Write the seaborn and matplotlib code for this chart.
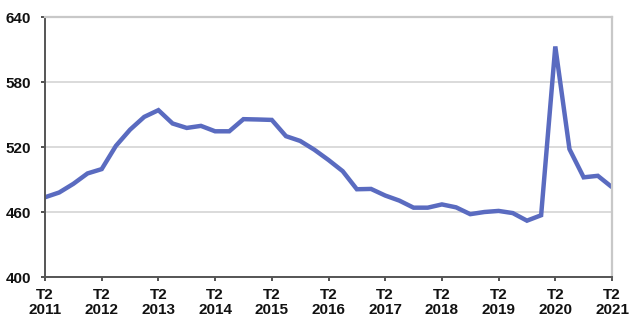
import matplotlib
matplotlib.use("Agg")
import matplotlib.pyplot as plt
import seaborn as sns
import pandas as pd

# Quarterly series, T2 2011 through T2 2021
quarters = [
    "T2 2011", "T3 2011", "T4 2011", "T1 2012",
    "T2 2012", "T3 2012", "T4 2012", "T1 2013",
    "T2 2013", "T3 2013", "T4 2013", "T1 2014",
    "T2 2014", "T3 2014", "T4 2014", "T1 2015",
    "T2 2015", "T3 2015", "T4 2015", "T1 2016",
    "T2 2016", "T3 2016", "T4 2016", "T1 2017",
    "T2 2017", "T3 2017", "T4 2017", "T1 2018",
    "T2 2018", "T3 2018", "T4 2018", "T1 2019",
    "T2 2019", "T3 2019", "T4 2019", "T1 2020",
    "T2 2020", "T3 2020", "T4 2020", "T1 2021",
    "T2 2021",
]
values = [
    473.6, 478.0, 486.0, 495.6,
    499.6, 521.0, 536.0, 547.8,
    554.0, 541.7, 537.6, 539.5,
    534.5, 534.5, 545.7, 545.4,
    545.0, 530.0, 525.6, 517.5,
    508.0, 497.7, 481.0, 481.3,
    475.2, 470.5, 464.0, 464.0,
    467.0, 464.3, 458.0, 460.0,
    461.0, 459.0, 452.0, 457.0,
    612.8, 518.0, 492.0, 493.4,
    482.9,
]
tick_labels = ["T2\n2011", "T2\n2012", "T2\n2013", "T2\n2014", "T2\n2015",
               "T2\n2016", "T2\n2017", "T2\n2018", "T2\n2019", "T2\n2020",
               "T2\n2021"]
y_ticks = [400, 460, 520, 580, 640]

df = pd.DataFrame({"idx": range(len(quarters)), "quarter": quarters, "value": values})

sns.set_theme(style="white")
plt.rcParams["font.family"] = ["Liberation Sans", "DejaVu Sans"]

fig = plt.figure(figsize=(6.29, 3.24), dpi=100)
ax = fig.add_axes([45 / 629, 1 - 277 / 324, 567 / 629, 260 / 324])

sns.lineplot(data=df, x="idx", y="value", ax=ax, color="#5A6BC0",
             linewidth=3.2, solid_joinstyle="miter", solid_capstyle="butt")

ax.set_xlim(0, len(quarters) - 1)
ax.set_ylim(400, 640)
ax.set_yticks(y_ticks)
ax.set_yticklabels([str(v) for v in y_ticks])
ax.set_xticks(range(0, len(quarters), 4))
ax.set_xticklabels(tick_labels, linespacing=1.1)
ax.set_xlabel("")
ax.set_ylabel("")

ax.grid(axis="y", color="#d4d4d4", linewidth=1.2)
ax.set_axisbelow(True)

for side in ("left", "bottom"):
    ax.spines[side].set_color("#555555")
    ax.spines[side].set_linewidth(1.4)
for side in ("top", "right"):
    ax.spines[side].set_color("#c8c8c8")
    ax.spines[side].set_linewidth(1.6)

ax.tick_params(axis="both", which="major", direction="out", length=3,
               width=1.2, color="#333333", labelsize=11)
ax.tick_params(axis="y", pad=7, left=True)
ax.tick_params(axis="x", pad=5, bottom=True)
for lbl in ax.get_xticklabels() + ax.get_yticklabels():
    lbl.set_fontweight("bold")
    lbl.set_color("#111111")

fig.savefig("out.png", dpi=100)
